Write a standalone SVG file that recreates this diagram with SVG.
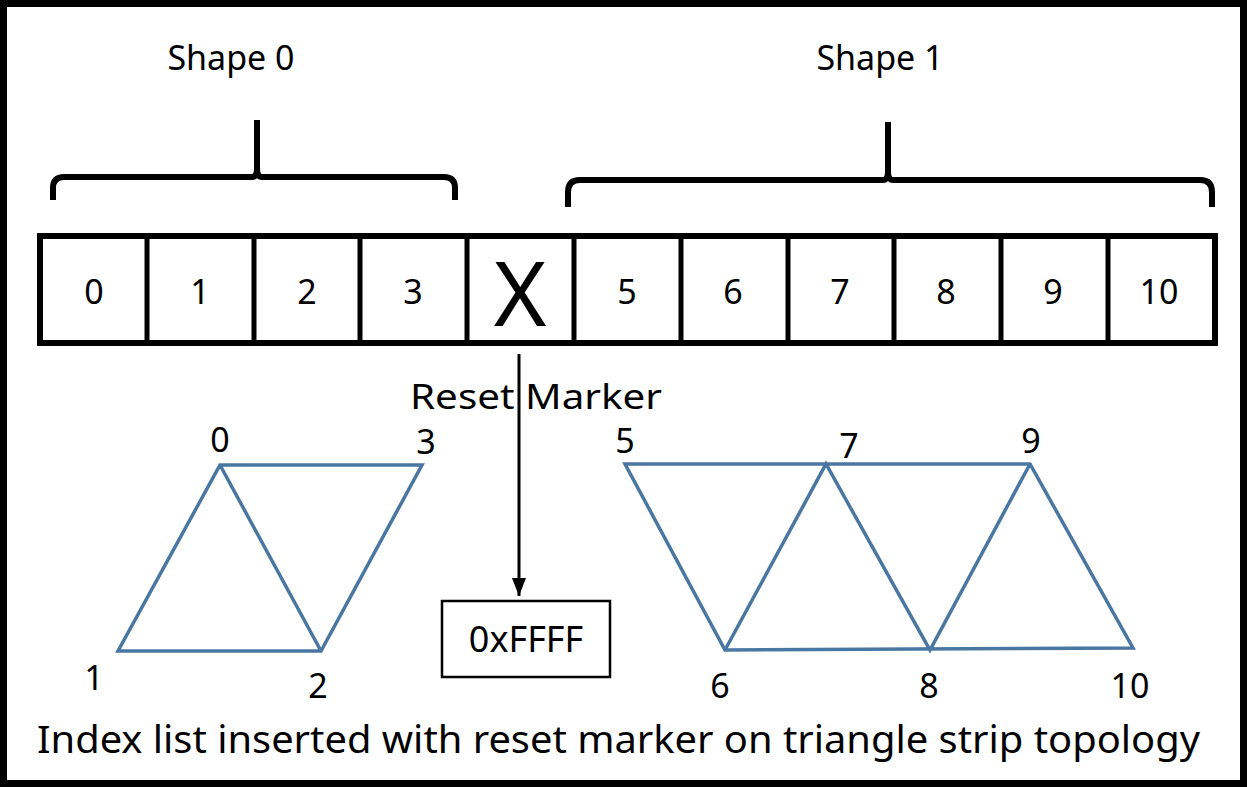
<svg xmlns="http://www.w3.org/2000/svg" width="1247" height="787" viewBox="0 0 1247 787">
<defs>
<style>
text{font-family:"Noto Sans","Open Sans",sans-serif;fill:#000}
.num{font-size:34px;text-anchor:middle}
.lbl{font-size:34px;text-anchor:middle}
.tri{fill:none;stroke:#4a77a2;stroke-width:3.5;stroke-linejoin:miter}
.brace{fill:none;stroke:#000;stroke-width:6}
</style>
<marker id="ah" viewBox="0 0 18 14" refX="18" refY="7" markerWidth="18" markerHeight="14" markerUnits="userSpaceOnUse" orient="auto">
<path d="M0,0 L18,7 L0,14 z" fill="#000"/>
</marker>
</defs>
<rect x="0" y="0" width="1247" height="787" fill="#fff"/>
<rect x="3.5" y="3.5" width="1240" height="780" fill="none" stroke="#000" stroke-width="7"/>

<g id="shape0-label"><text x="231" y="70" class="lbl">Shape 0</text></g>
<g id="shape1-label"><text x="880" y="70" class="lbl">Shape 1</text></g>

<g id="brace0"><path class="brace" d="M53,200 V188 Q53,177 64,177 H252 Q257,177 257,168 V120 M257,168 Q257,177 262,177 H444 Q455,177 455,188 V200"/></g>
<g id="brace1"><path class="brace" d="M568,207 V192 Q568,180 580,180 H883 Q888,180 888,171 V122 M888,171 Q888,180 893,180 H1200 Q1212,180 1212,192 V207"/></g>

<g id="array">
<rect x="40" y="236" width="1175" height="107" fill="#fff" stroke="#000" stroke-width="6"/>
<path d="M147,236V343 M254,236V343 M360,236V343 M467,236V343 M574,236V343 M681,236V343 M788,236V343 M894,236V343 M1001,236V343 M1108,236V343" stroke="#000" stroke-width="5"/>
<text class="num" x="94" y="304">0</text>
<text class="num" x="200" y="304">1</text>
<text class="num" x="307" y="304">2</text>
<text class="num" x="413" y="304">3</text>
<text x="520" y="326" style="font-size:90px;text-anchor:middle">X</text>
<text class="num" x="627" y="304">5</text>
<text class="num" x="733" y="304">6</text>
<text class="num" x="840" y="304">7</text>
<text class="num" x="946" y="304">8</text>
<text class="num" x="1053" y="304">9</text>
<text class="num" x="1159" y="304">10</text>
</g>

<g id="connectors">
<line x1="519" y1="354" x2="519" y2="596" stroke="#000" stroke-width="3" marker-end="url(#ah)"/>
</g>

<g id="reset-label"><text x="410" y="409" style="font-size:35px" textLength="252" lengthAdjust="spacingAndGlyphs">Reset Marker</text></g>

<g id="ffff">
<rect x="442" y="601" width="168" height="76" fill="#fff" stroke="#000" stroke-width="2.5"/>
<text x="526" y="652" style="font-size:36px;text-anchor:middle">0xFFFF</text>
</g>

<g id="strip0">
<path class="tri" d="M220,465 L422,465 L321,651 L118,651 Z M220,465 L321,651"/>
<text class="lbl" x="220" y="452">0</text>
<text class="lbl" x="426" y="454">3</text>
<text class="lbl" x="94" y="690">1</text>
<text class="lbl" x="318" y="698">2</text>
</g>

<g id="strip1">
<path class="tri" d="M625,464 L1030,464 L1133,648 L725,650 Z M725,650 L826,464 L930,650 L1030,464"/>
<text class="lbl" x="625" y="453">5</text>
<text class="lbl" x="849" y="458">7</text>
<text class="lbl" x="1031" y="453">9</text>
<text class="lbl" x="720" y="698">6</text>
<text class="lbl" x="929" y="698">8</text>
<text class="lbl" x="1130" y="698">10</text>
</g>

<g id="caption"><text x="37" y="753" style="font-size:38px" textLength="1163" lengthAdjust="spacingAndGlyphs">Index list inserted with reset marker on triangle strip topology</text></g>
</svg>
